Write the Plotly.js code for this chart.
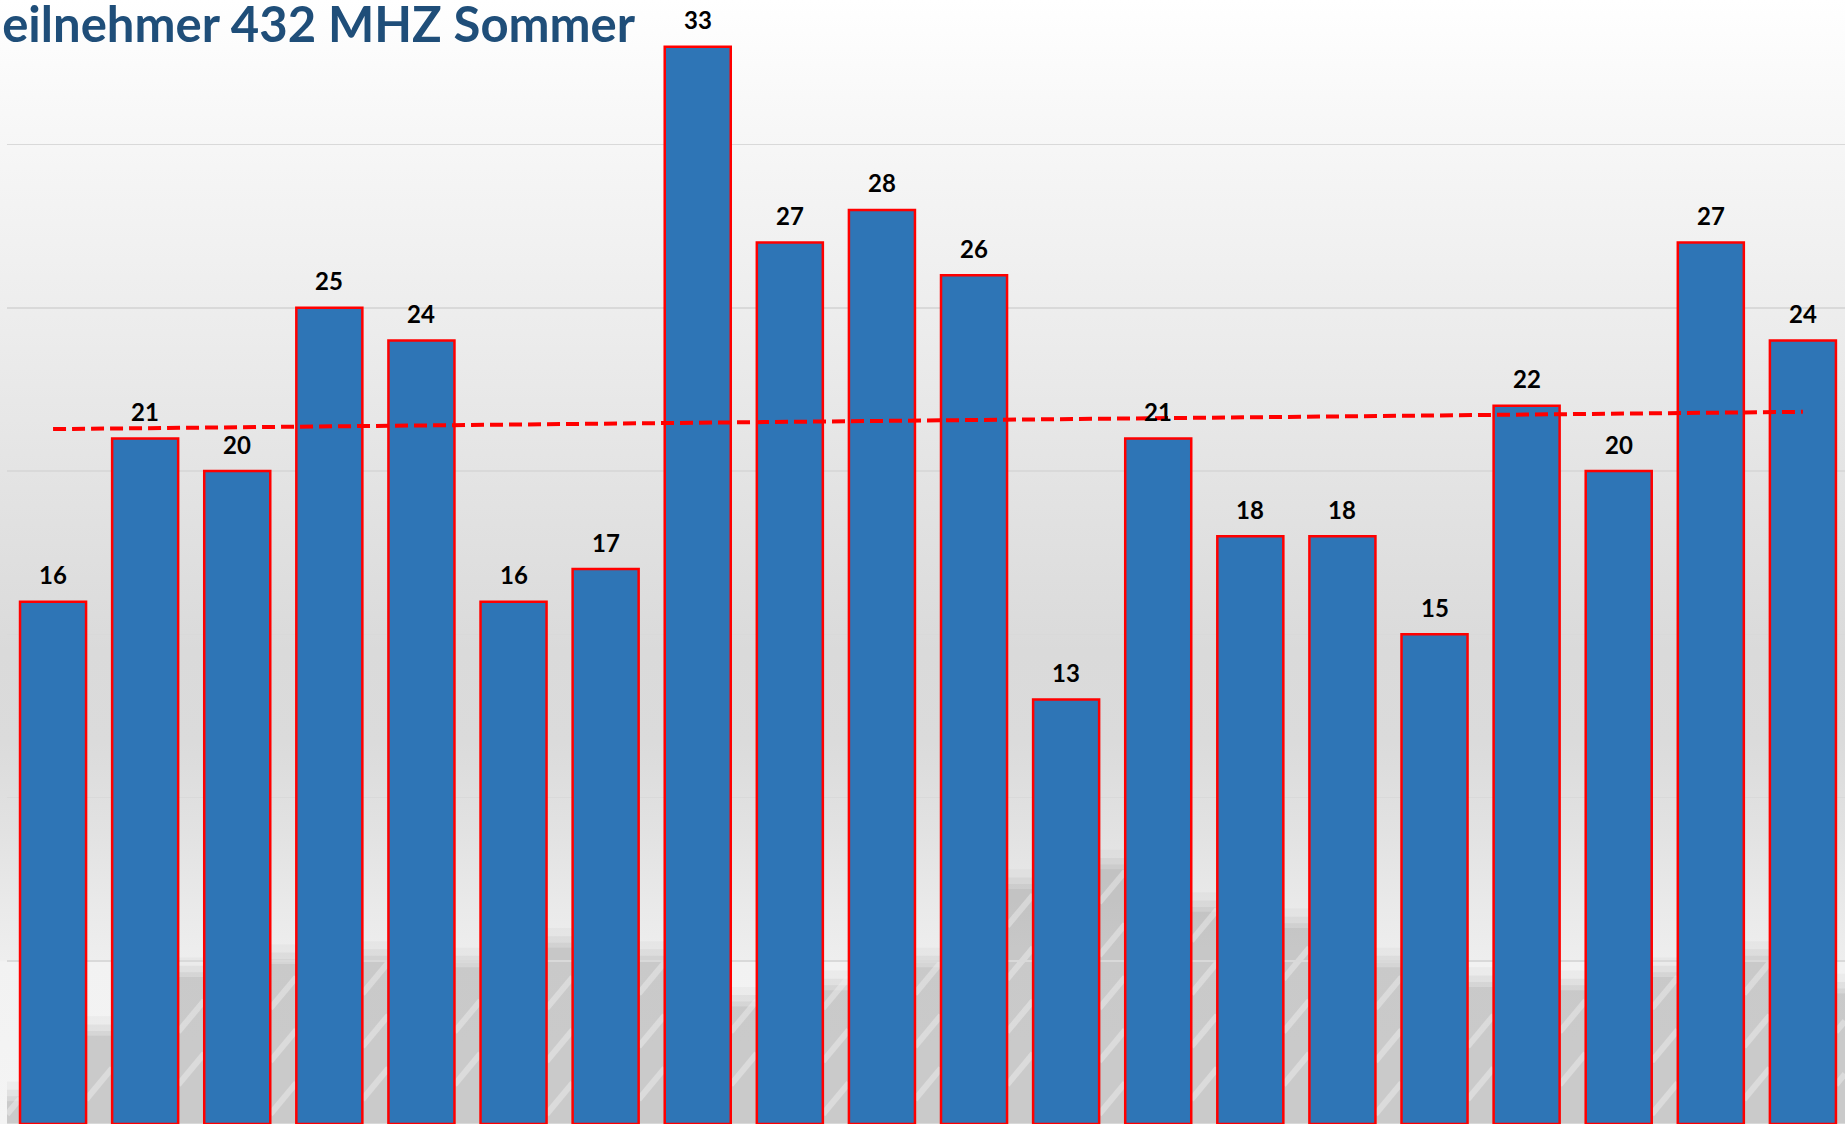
<!DOCTYPE html>
<html>
<head>
<meta charset="utf-8">
<script src="https://cdn.plot.ly/plotly-3.0.1.min.js"></script>
<style>
html, body { margin: 0; padding: 0; background: #ffffff; }
#chart {
  width: 1845px; height: 1124px;
  background: linear-gradient(to bottom,
    #FFFFFF 0%, #F8F8F8 10%, #EDEDED 28%, #E2E2E2 45%, #DADADA 58%,
    #DBDBDB 66%, #E2E2E2 74%, #EAEAEA 81%, #EEEEEE 85.4%, #F2F2F2 85.6%, #F4F4F4 100%);
}
</style>
</head>
<body>
<div id="chart"></div>
<script>
// ---- data ----
const titleText = 'eilnehmer 432 MHZ Sommer';
const categories = ['1','2','3','4','5','6','7','8','9','10','11','12','13','14','15','16','17','18','19','20'];
const participants = [16,21,20,25,24,16,17,33,27,28,26,13,21,18,18,15,22,20,27,24];
// decorative floor-shadow heights seen in the gaps between bars (gap 0 .. gap 20)
const shadowTops = [0.7,2.7,4.5,4.9,5.0,4.8,5.4,5.0,3.6,4.1,4.8,7.2,7.8,6.5,6.0,4.8,4.2,4.1,4.5,5.0,4.0];

// ---- linear trend (least squares of the series) ----
const n = participants.length;
const xs = participants.map((_, i) => i);
const mx = xs.reduce((a, b) => a + b, 0) / n;
const my = participants.reduce((a, b) => a + b, 0) / n;
let sxy = 0, sxx = 0;
xs.forEach((x, i) => { sxy += (x - mx) * (participants[i] - my); sxx += (x - mx) * (x - mx); });
const slope = sxy / sxx;
const intercept = my - slope * mx;
const trend = xs.map(x => intercept + slope * x);

// ---- layout constants ----
const halfBar = 0.3585;
const xMax = 19.457;
const yMax = 34.43;

// ---- shadow shapes ----
const shapes = [];
shadowTops.forEach((top, k) => {
  const xl = k === 0 ? -0.5 : (k - 1) + halfBar;
  const xr = k === n ? xMax : k - halfBar;
  [[0.6, 0.08], [0.35, 0.12], [0.15, 0.14], [0, 0.18]].forEach(([ext, a]) => {
    shapes.push({type: 'rect', xref: 'x', yref: 'y', layer: 'below',
      x0: xl, x1: xr, y0: 0, y1: top + ext, line: {width: 0},
      fillcolor: 'rgba(150,150,150,' + a + ')'});
  });
  const rise = (xr - xl) * 3.39;
  for (let y0 = 0.3 + (k % 3) * 0.45; y0 + rise * 0.5 < top; y0 += 1.62) {
    shapes.push({type: 'line', xref: 'x', yref: 'y', layer: 'below',
      x0: xl, y0: y0, x1: xr, y1: y0 + rise,
      line: {color: 'rgba(240,240,240,0.45)', width: 6}});
  }
});

// ---- value labels ----
const annotations = participants.map((v, i) => ({
  x: i, y: v, xref: 'x', yref: 'y',
  text: '<b>' + v + '</b>', showarrow: false,
  yanchor: 'middle', yshift: 27,
  font: {family: 'Lato, "Open Sans", sans-serif', size: 24, color: '#000000'}
}));

const data = [
  {
    type: 'bar', x: categories, y: participants,
    marker: {color: '#2E75B6', line: {color: '#FF0000', width: 2.5}},
    hoverinfo: 'x+y'
  },
  {
    type: 'scatter', mode: 'lines', x: categories, y: trend,
    line: {color: '#FF0000', width: 4, dash: '13px,6px'},
    hoverinfo: 'skip'
  }
];

const layout = {
  width: 1845, height: 1124,
  margin: {l: 7, r: 0, t: 0, b: 0, pad: 0},
  paper_bgcolor: 'rgba(0,0,0,0)',
  plot_bgcolor: 'rgba(0,0,0,0)',
  showlegend: false,
  bargap: 0.283,
  title: {
    text: '<b>' + titleText + '</b>',
    xref: 'container', x: 0.0012, xanchor: 'left',
    yref: 'container', y: 1, yanchor: 'top',
    pad: {t: 8, l: 0},
    font: {family: 'Lato, "Open Sans", sans-serif', size: 49, color: '#1F4E79'}
  },
  xaxis: {
    type: 'category', range: [-0.5, xMax],
    showticklabels: false, ticks: '', showgrid: false, zeroline: false,
    showline: false, fixedrange: true
  },
  yaxis: {
    range: [0, yMax], dtick: 5, tick0: 0,
    showticklabels: false, ticks: '',
    showgrid: true, gridcolor: '#D9D9D9', gridwidth: 1.5,
    zeroline: true, zerolinecolor: '#D9D9D9', zerolinewidth: 2,
    showline: false, fixedrange: true
  },
  shapes: shapes,
  annotations: annotations
};

Plotly.newPlot('chart', data, layout, {displayModeBar: false, staticPlot: true});
</script>
</body>
</html>
